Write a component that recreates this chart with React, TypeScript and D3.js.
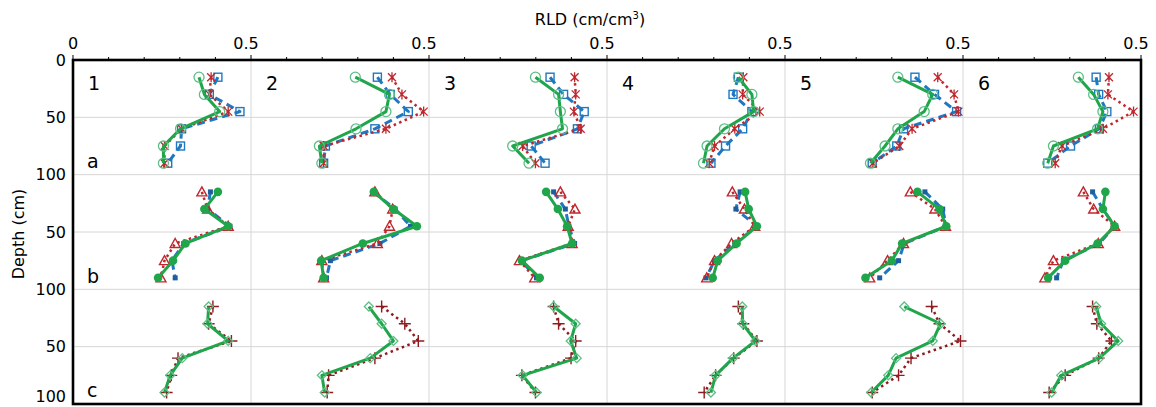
import React from "react";
import * as d3 from "d3";

const depths = [15, 30, 45, 60, 75, 90];
const panelNames = ["1", "2", "3", "4", "5", "6"];
const rowNames = ["a", "b", "c"];
const xTickValues = [0, 0.5, 1, 1.5, 2, 2.5, 3];
const xTickLabels = ["0", "0.5", "0.5", "0.5", "0.5", "0.5", "0.5"];
const yTickValues = [0, 50, 100, 150, 200, 250, 300];
const yTickLabels = ["0", "50", "100", "50", "100", "50", "100"];

// Row a
const aGreen = [
  [0.354, 0.369, 0.412, 0.302, 0.254, 0.254],
  [0.293, 0.389, 0.379, 0.295, 0.192, 0.199],
  [0.299, 0.364, 0.369, 0.375, 0.235, 0.281],
  [0.369, 0.407, 0.412, 0.33, 0.281, 0.271],
  [0.317, 0.415, 0.391, 0.317, 0.281, 0.24],
  [0.324, 0.367, 0.393, 0.378, 0.254, 0.238],
];
const aBlue = [
  [0.407, 0.383, 0.469, 0.305, 0.302, 0.266],
  [0.355, 0.391, 0.442, 0.348, 0.209, 0.204],
  [0.34, 0.378, 0.436, 0.417, 0.287, 0.326],
  [0.369, 0.354, 0.407, 0.381, 0.333, 0.292],
  [0.365, 0.42, 0.482, 0.333, 0.314, 0.245],
  [0.374, 0.381, 0.404, 0.383, 0.302, 0.238],
];
const aRed = [
  [0.388, 0.383, 0.436, 0.305, 0.257, 0.257],
  [0.396, 0.424, 0.485, 0.379, 0.204, 0.204],
  [0.409, 0.412, 0.407, 0.426, 0.263, 0.299],
  [0.383, 0.381, 0.429, 0.359, 0.302, 0.287],
  [0.429, 0.475, 0.487, 0.357, 0.321, 0.247],
  [0.41, 0.407, 0.479, 0.393, 0.278, 0.259],
];
// Row b
const bGreen = [
  [0.407, 0.369, 0.436, 0.316, 0.281, 0.239],
  [0.345, 0.4, 0.466, 0.314, 0.197, 0.204],
  [0.329, 0.362, 0.388, 0.402, 0.261, 0.311],
  [0.388, 0.398, 0.421, 0.364, 0.311, 0.297],
  [0.372, 0.434, 0.453, 0.329, 0.3, 0.226],
  [0.4, 0.393, 0.426, 0.378, 0.287, 0.239],
];
const bBlue = [
  [0.386, 0.378, 0.441, 0.311, 0.278, 0.287],
  [0.343, 0.405, 0.448, 0.362, 0.223, 0.212],
  [0.35, 0.383, 0.393, 0.409, 0.259, 0.302],
  [0.374, 0.362, 0.421, 0.359, 0.302, 0.278],
  [0.393, 0.443, 0.453, 0.335, 0.319, 0.266],
  [0.364, 0.393, 0.426, 0.383, 0.282, 0.263],
];
const bRed = [
  [0.362, 0.378, 0.436, 0.287, 0.257, 0.247],
  [0.348, 0.398, 0.389, 0.355, 0.199, 0.204],
  [0.369, 0.41, 0.391, 0.402, 0.254, 0.297],
  [0.352, 0.386, 0.415, 0.35, 0.302, 0.28],
  [0.352, 0.421, 0.451, 0.333, 0.288, 0.238],
  [0.338, 0.367, 0.426, 0.38, 0.254, 0.23],
];
// Row c
const cGreen = [
  [0.381, 0.378, 0.436, 0.307, 0.273, 0.257],
  [0.331, 0.367, 0.4, 0.335, 0.199, 0.207],
  [0.35, 0.412, 0.398, 0.415, 0.263, 0.302],
  [0.38, 0.381, 0.417, 0.354, 0.305, 0.292],
  [0.335, 0.437, 0.415, 0.312, 0.29, 0.242],
  [0.374, 0.388, 0.436, 0.383, 0.276, 0.249],
];
const cRed = [
  [0.393, 0.381, 0.445, 0.295, 0.276, 0.263],
  [0.367, 0.432, 0.47, 0.348, 0.218, 0.214],
  [0.35, 0.364, 0.412, 0.399, 0.261, 0.299],
  [0.369, 0.383, 0.421, 0.356, 0.305, 0.273],
  [0.412, 0.434, 0.493, 0.354, 0.319, 0.245],
  [0.364, 0.376, 0.417, 0.381, 0.287, 0.242],
];

const W = 1156;
const H = 407;
const PL = 73;
const PR = 1141;
const PT = 60;
const PB = 404;
const PANEL_W = 0.5;
const ROW_H = 100;

const GREEN = "#1fa64b";
const GREEN_LIGHT = "#5dbf86";
const BLUE = "#1f78c0";
const BLUE_DARK = "#1d5f9e";
const RED = "#c0272d";
const RED_DARK = "#8e1b1f";

type MarkerKind = "circleOpen" | "circleFilled" | "squareOpen" | "squareSmall" | "star" | "triangle" | "diamond" | "plus";

interface SeriesDef {
  data: number[][];
  color: string;
  dash: string | null;
  width: number;
  marker: MarkerKind;
  markerColor: string;
}

const rows: SeriesDef[][] = [
  [
    { data: aBlue, color: BLUE, dash: "8,5", width: 3, marker: "squareOpen", markerColor: BLUE },
    { data: aRed, color: RED, dash: "2.5,3.5", width: 2.5, marker: "star", markerColor: RED },
    { data: aGreen, color: GREEN, dash: null, width: 3, marker: "circleOpen", markerColor: GREEN_LIGHT },
  ],
  [
    { data: bBlue, color: BLUE, dash: "8,5", width: 3, marker: "squareSmall", markerColor: BLUE_DARK },
    { data: bRed, color: RED, dash: "2.5,3.5", width: 2.5, marker: "triangle", markerColor: RED },
    { data: bGreen, color: GREEN, dash: null, width: 3, marker: "circleFilled", markerColor: GREEN },
  ],
  [
    { data: cRed, color: RED_DARK, dash: "2.5,3.5", width: 2.5, marker: "plus", markerColor: RED_DARK },
    { data: cGreen, color: GREEN, dash: null, width: 3, marker: "diamond", markerColor: GREEN_LIGHT },
  ],
];

function Marker({ kind, x, y, color }: { kind: MarkerKind; x: number; y: number; color: string }) {
  switch (kind) {
    case "circleOpen":
      return <circle cx={x} cy={y} r={5} fill="none" stroke={color} strokeWidth={1.3} />;
    case "circleFilled":
      return <circle cx={x} cy={y} r={4.3} fill={color} stroke="none" />;
    case "squareOpen":
      return <rect x={x - 4} y={y - 4} width={8} height={8} fill="none" stroke={color} strokeWidth={1.4} />;
    case "squareSmall":
      return <rect x={x - 2.5} y={y - 2.5} width={5} height={5} fill={color} stroke="none" />;
    case "star":
      return (
        <path
          d={`M${x},${y - 5}L${x},${y + 5}M${x - 4},${y - 4}L${x + 4},${y + 4}M${x + 4},${y - 4}L${x - 4},${y + 4}`}
          stroke={color}
          strokeWidth={1.3}
          fill="none"
        />
      );
    case "triangle":
      return (
        <path
          d={`M${x},${y - 5}L${x + 5},${y + 4}L${x - 5},${y + 4}Z`}
          fill="none"
          stroke={color}
          strokeWidth={1.4}
        />
      );
    case "diamond":
      return (
        <path
          d={`M${x},${y - 4.5}L${x + 4.5},${y}L${x},${y + 4.5}L${x - 4.5},${y}Z`}
          fill="none"
          stroke={color}
          strokeWidth={1.3}
        />
      );
    case "plus":
      return (
        <path
          d={`M${x - 6},${y}L${x + 6},${y}M${x},${y - 6}L${x},${y + 6}`}
          stroke={color}
          strokeWidth={1.4}
          fill="none"
        />
      );
  }
  return null;
}

export default function App() {
  const x = d3.scaleLinear().domain([0, 3]).range([PL, PR]);
  const y = d3.scaleLinear().domain([0, 300]).range([PT, PB]);
  const font = "'DejaVu Sans', Verdana, sans-serif";

  const minorTicks = d3.range(0, 31).map((i) => i / 10);
  const gridX = [0.5, 1, 1.5, 2, 2.5];
  const gridY = [50, 100, 150, 200, 250];

  return (
    <svg
      width={W}
      height={H}
      style={{ position: "absolute", left: 0, top: 0, background: "#fff" }}
      fontFamily={font}
    >
      <rect x={0} y={0} width={W} height={H} fill="#fff" />
      {/* gridlines */}
      {gridX.map((g) => (
        <line key={"gx" + g} x1={x(g)} x2={x(g)} y1={PT} y2={PB} stroke="#d6d6d6" strokeWidth={1} />
      ))}
      {gridY.map((g) => (
        <line key={"gy" + g} x1={PL} x2={PR} y1={y(g)} y2={y(g)} stroke="#d6d6d6" strokeWidth={1} />
      ))}

      {/* series */}
      {rows.map((seriesList, ri) =>
        seriesList.map((s, si) =>
          s.data.map((vals, pi) => {
            const pts: [number, number][] = vals.map((v, k) => [
              x(pi * PANEL_W + v),
              y(ri * ROW_H + depths[k]),
            ]);
            const line = d3.line<[number, number]>()(pts) || "";
            return (
              <g key={`s${ri}-${si}-${pi}`}>
                <path
                  d={line}
                  fill="none"
                  stroke={s.color}
                  strokeWidth={s.width}
                  strokeDasharray={s.dash || undefined}
                  strokeLinejoin="round"
                />
                {pts.map((p, k) => (
                  <Marker key={k} kind={s.marker} x={p[0]} y={p[1]} color={s.markerColor} />
                ))}
              </g>
            );
          })
        )
      )}

      {/* panel numbers */}
      {panelNames.map((n, i) => (
        <text key={"pn" + n} x={x(i * PANEL_W) + 15} y={y(0) + 30} fontSize={19} fill="#000">
          {n}
        </text>
      ))}
      {rowNames.map((n, i) => (
        <text key={"rn" + n} x={PL + 14} y={y(i * ROW_H + 88) + 7} fontSize={19} fill="#000">
          {n}
        </text>
      ))}

      {/* top axis ticks */}
      {minorTicks.map((t, i) => (
        <line
          key={"mt" + i}
          x1={x(t)}
          x2={x(t)}
          y1={PT}
          y2={PT - (i % 5 === 0 ? 5 : 3)}
          stroke="#000"
          strokeWidth={1}
        />
      ))}
      {xTickValues.map((t, i) => (
        <text
          key={"xt" + i}
          x={x(t) - (i === 0 ? 0 : 5)}
          y={PT - 11}
          fontSize={16}
          textAnchor="middle"
          fill="#000"
        >
          {xTickLabels[i]}
        </text>
      ))}
      {yTickValues.map((t, i) => (
        <text
          key={"yt" + i}
          x={PL - 7}
          y={Math.min(y(t) + 5.8, H - 5)}
          fontSize={16}
          textAnchor="end"
          fill="#000"
        >
          {yTickLabels[i]}
        </text>
      ))}

      {/* frame */}
      <rect x={PL} y={PT} width={PR - PL} height={PB - PT} fill="none" stroke="#000" strokeWidth={2.6} />

      {/* titles */}
      <text x={590} y={25} fontSize={16} textAnchor="middle" fill="#000">
        RLD (cm/cm
        <tspan fontSize={10} dy={-6}>3</tspan>
        <tspan dy={6}>)</tspan>
      </text>
      <text
        transform={`translate(24,${(PT + PB) / 2 + 2}) rotate(-90)`}
        fontSize={16}
        textAnchor="middle"
        fill="#000"
      >
        Depth (cm)
      </text>
    </svg>
  );
}
